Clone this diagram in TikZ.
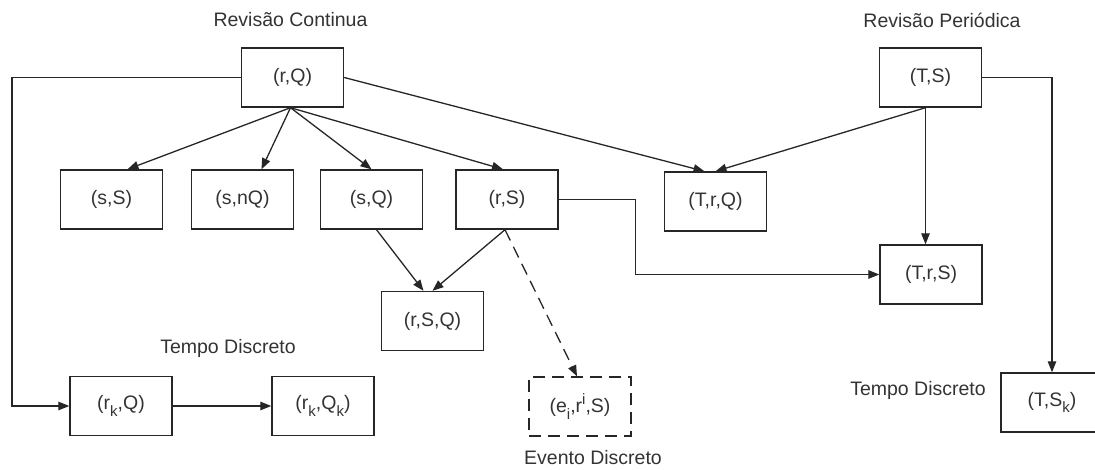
\documentclass[tikz,border=0pt]{standalone}
\usepackage{fontspec}
\setmainfont{Liberation Sans}
\usetikzlibrary{arrows.meta}
\definecolor{ink}{HTML}{262626}
\definecolor{txt}{HTML}{333333}
% lowered / raised index letters in the box labels
\newcommand{\lo}[1]{\raisebox{-0.35em}{\fontsize{15}{15}\selectfont #1}}
\newcommand{\hi}[1]{\raisebox{0.45em}{\fontsize{15}{15}\selectfont #1}}
\begin{document}
\begin{tikzpicture}[x=1pt,y=-1pt,
  font=\fontsize{19.5}{23}\selectfont,
  box/.style={draw=ink, line width=1.4pt, minimum width=102pt, minimum height=59pt,
              inner sep=0pt, text=txt},
  dbox/.style={box, dash pattern=on 12pt off 7pt},
  lbl/.style={text=txt, inner sep=0pt},
  arr/.style={draw=ink, line width=1.3pt, -{Triangle[length=11pt,width=8.5pt]}},
]
\useasboundingbox (0,0) rectangle (1095,470);
\clip (0,0) rectangle (1095,470);

% group headings
\node[lbl] (lblCont) at (290.5,20) {Revisão Continua};
\node[lbl] (lblPer)  at (942,20)   {Revisão Periódica};
\node[lbl] (lblTd1)  at (228,348)  {Tempo Discreto};
\node[lbl] (lblEv)   at (593,458)  {Evento Discreto};
\node[lbl] (lblTd2)  at (918,390)  {Tempo Discreto};

% policy boxes
\node[box] (rQ)   at (292.5,77.5) {(r,Q)};
\node[box] (TS)   at (930.5,77.5) {(T,S)};
\node[box] (sS)   at (111.5,199.5) {(s,S)};
\node[box] (snQ)  at (242.5,199.5) {(s,nQ)};
\node[box] (sQ)   at (371.5,199.5) {(s,Q)};
\node[box] (rS)   at (507,199.5)  {(r,S)};
\node[box] (TrQ)  at (715.5,201.5) {(T,r,Q)};
\node[box] (TrS)  at (931,274.5)  {(T,r,S)};
\node[box] (rSQ)  at (432.5,321)  {(r,S,Q)};
\node[box] (rkQ)  at (121,406)    {(r\lo{k},Q)};
\node[box] (rkQk) at (323,406)    {(r\lo{k},Q\lo{k})};
\node[dbox] (eri) at (580,406.5)  {(e\lo{i},r\hi{i},S)};
\node[box] (TSk)  at (1052,402.5) {(T,S\lo{k})};

% continuous review branches
\coordinate (rQb) at ([xshift=-2pt]rQ.south);
\draw[arr] (rQb) -- ([xshift=16pt]sS.north);
\draw[arr] (rQb) -- ([xshift=19pt]snQ.north);
\draw[arr] (rQb) -- (sQ.north);
\draw[arr] (rQb) -- ([xshift=-4pt]rS.north);
\draw[arr] (rQ.east) -- ([xshift=-11pt]TrQ.north);
\coordinate (lft) at (12,77.5);
\draw[arr] (rQ.west) -- (lft) |- (rkQ.west);
\draw[arr] (rkQ.east) -- (rkQk.west);

% combined policies
\draw[arr] ([xshift=5pt]sQ.south) -- ([xshift=-9pt]rSQ.north);
\coordinate (rSb) at ([xshift=-2pt]rS.south);
\draw[arr] (rSb) -- (rSQ.north);
\draw[arr, dash pattern=on 12pt off 7pt] (rSb) -- ([xshift=-3pt]eri.north);
\draw[arr] (rS.east) -- ++(77,0) |- (TrS.west);

% periodic review branches
\coordinate (TSb) at ([xshift=-5pt]TS.south);
\draw[arr] (TSb) -- (TrQ.north);
\draw[arr] (TSb) -- (TSb |- TrS.north);
\draw[arr] (TS.east) -| (TSk.north);
\end{tikzpicture}
\end{document}
